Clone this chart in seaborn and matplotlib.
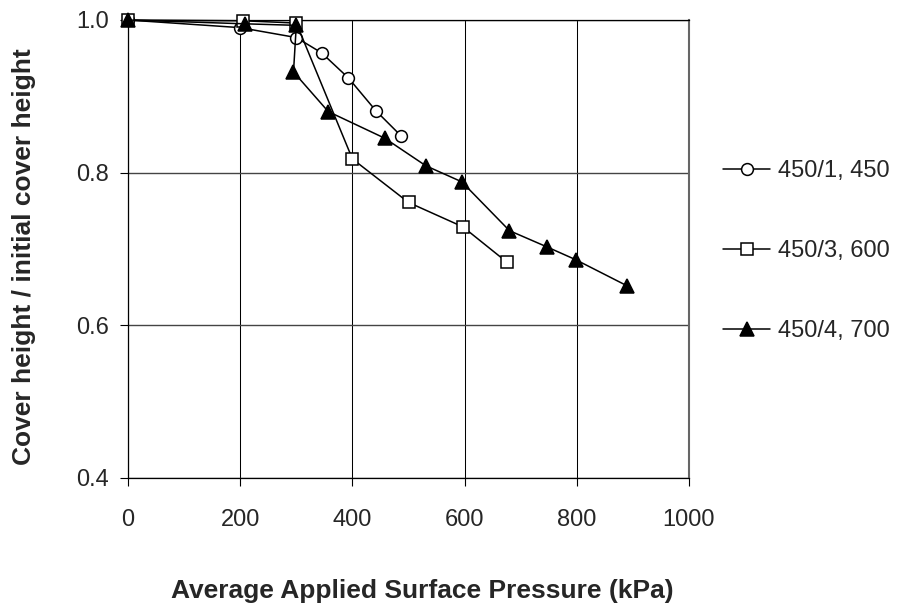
import matplotlib
matplotlib.use("Agg")
import matplotlib.pyplot as plt
import seaborn as sns
import pandas as pd

# Data
x_450_1 = [0, 200, 300, 345, 393, 442, 487]
y_450_1 = [1.0, 0.990, 0.977, 0.957, 0.924, 0.881, 0.848]

x_450_3 = [0, 205, 300, 400, 500, 597, 675]
y_450_3 = [1.0, 0.999, 0.996, 0.818, 0.761, 0.729, 0.683]

x_450_4 = [0, 209, 300, 295, 357, 458, 531, 595, 680, 746, 798, 889]
y_450_4 = [1.0, 0.995, 0.993, 0.932, 0.880, 0.845, 0.809, 0.788, 0.724, 0.703, 0.686, 0.652]

labels = ["450/1, 450", "450/3, 600", "450/4, 700"]
x_ticks = [0, 200, 400, 600, 800, 1000]
y_ticks = [0.4, 0.6, 0.8, 1.0]

sns.set_style("white")
plt.rcParams['font.family'] = ['Liberation Sans', 'DejaVu Sans']

W, H = 900, 607
fig = plt.figure(figsize=(W / 100, H / 100), dpi=100)
ax = fig.add_axes([128 / W, 1 - 478 / H, 561 / W, 458 / H])

series = [
    (x_450_1, y_450_1, labels[0], 'o', 'white', 8.5),
    (x_450_3, y_450_3, labels[1], 's', 'white', 8.5),
    (x_450_4, y_450_4, labels[2], '^', 'black', 10),
]
for xs, ys, lab, mk, fc, ms in series:
    df = pd.DataFrame({"x": xs, "y": ys})
    sns.lineplot(data=df, x="x", y="y", sort=False, estimator=None, ax=ax,
                 color='black', linewidth=1.1, marker=mk, markersize=ms,
                 markerfacecolor=fc, markeredgecolor='black', markeredgewidth=1.1,
                 label=lab, clip_on=False, zorder=3)

ax.set_xlim(0, 1000)
ax.set_ylim(0.4, 1.0)
ax.set_xticks(x_ticks)
ax.set_yticks(y_ticks)
ax.set_xticklabels([str(v) for v in x_ticks])
ax.set_yticklabels([f"{v:.1f}" for v in y_ticks])
ax.tick_params(axis='both', which='major', direction='out', length=6, width=0.8,
               color='black', labelsize=17, bottom=True, left=True)
ax.tick_params(axis='x', pad=16)
ax.tick_params(axis='y', pad=8)

ax.grid(True, axis='x', color='black', linewidth=0.75)
ax.grid(True, axis='y', color='#444444', linewidth=1.0)
ax.set_axisbelow(True)
for s in ['left', 'bottom', 'top']:
    ax.spines[s].set_color('black')
    ax.spines[s].set_linewidth(0.9)
ax.spines['right'].set_color('#666666')
ax.spines['right'].set_linewidth(1.5)

ax.set_xlabel("Average Applied Surface Pressure (kPa)", fontsize=19,
              fontweight='bold')
ax.xaxis.set_label_coords(422 / W, 1 - 598 / H, transform=fig.transFigure)
ax.xaxis.label.set_va('baseline')
ax.set_ylabel("Cover height / initial cover height", fontsize=19,
              fontweight='bold')
ax.yaxis.set_label_coords(24 / W, 1 - 257 / H, transform=fig.transFigure)
ax.yaxis.label.set_va('center')

leg = ax.legend(loc='center left', bbox_to_anchor=(1.0, 0.495), frameon=False,
                fontsize=17, handlelength=2.0, handletextpad=0.34,
                labelspacing=2.45, borderaxespad=1.04)

fig.savefig("out.png", dpi=100, facecolor='white')
